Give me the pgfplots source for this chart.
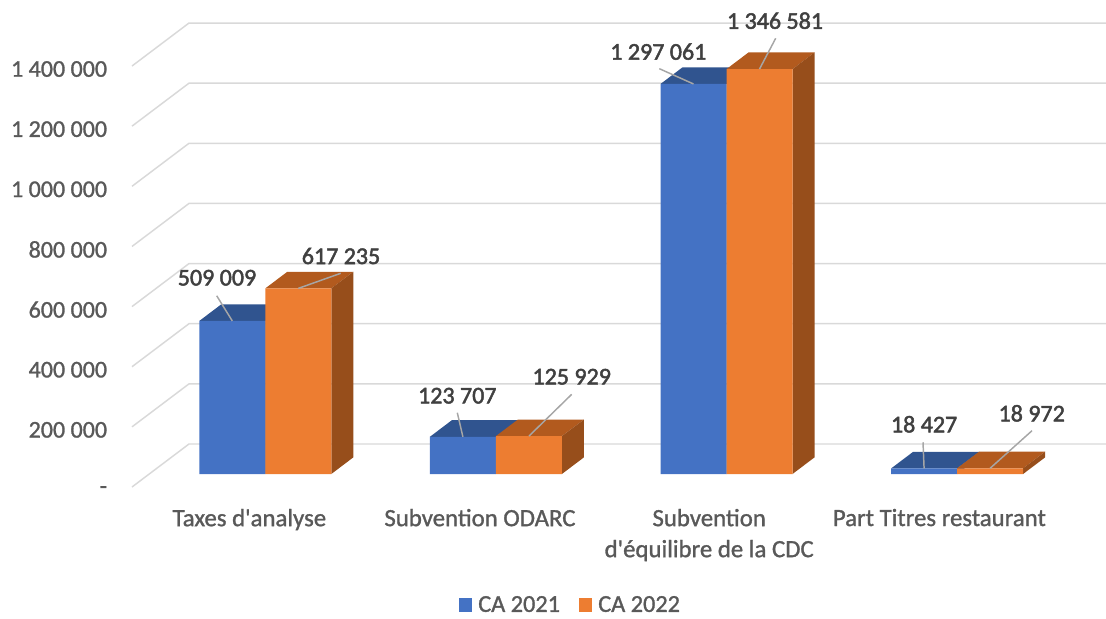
\documentclass[border=0pt]{standalone}
\usepackage{fontspec}
\setmainfont{Carlito}
\newfontfamily\semi[FakeBold=1.2]{Carlito}
\newfontfamily\semib[FakeBold=2]{Carlito}
\usepackage{pgfplots}
\pgfplotsset{compat=1.18}
\definecolor{cblue}{HTML}{4472C4}
\definecolor{corange}{HTML}{ED7D31}
\definecolor{cbluetop}{HTML}{30548F}
\definecolor{corangetop}{HTML}{B25A1E}
\definecolor{cblueside}{HTML}{284678}
\definecolor{corangeside}{HTML}{974E1B}
\definecolor{cgrid}{HTML}{D9D9D9}
\definecolor{cleader}{HTML}{A6A6A6}
\definecolor{ctick}{HTML}{595959}
\definecolor{clabel}{HTML}{404040}
% one gridline: front of the floor, back wall, right end
\newcommand{\gridat}[1]{\addplot[cgrid,line width=1.1pt,forget plot] coordinates {(-0.57806,#1-43233) (-0.33088,#1+99767) (3.64571,#1+99767)};}
% top and side of a bar: left edge, value, colours
\newcommand{\solid}[4]{%
 \addplot[fill=#3,draw=none,forget plot] coordinates {(#1,#2) (#1+0.2862,#2) (#1+0.3816,#2+55300) (#1+0.0954,#2+55300)};
 \addplot[fill=#4,draw=none,forget plot] coordinates {(#1+0.2862,0) (#1+0.3816,55300) (#1+0.3816,#2+55300) (#1+0.2862,#2)};
}
% leader and label: x, value, leader dx dy, label dx dy, text
\newcommand{\lab}[7]{%
 \draw[cleader,line width=1.1pt] (axis cs:#1,#2) -- ++(#3*0.75pt,#4*0.75pt);
 \node[font=\semib\fontsize{18}{20}\selectfont,text=clabel,inner sep=0pt,xshift=#5*0.75pt,yshift=#6*0.75pt] at (axis cs:#1,#2) {#7};
}
\begin{document}
\begin{tikzpicture}
\useasboundingbox (-82.5pt,-88.5pt) rectangle (747pt,375pt);
\begin{axis}[
 at={(0,0)},anchor=south west,
 scale only axis,width=747pt,height=371.25pt,
 xmin=-0.67346,xmax=3.64571,ymin=-86464,ymax=1559695,
 clip=false,
 axis line style={draw=none},
 tick style={draw=none},
 major tick length=0pt,
 scaled y ticks=false,
 xtick={-0.004,0.996,1.99,2.988},
 xticklabels={Taxes d'analyse,Subvention ODARC,{Subvention\\d'équilibre de la CDC},Part Titres restaurant},
 xticklabel style={font=\semi\fontsize{18.6}{23.25}\selectfont,text=ctick,align=center,anchor=north,inner sep=0pt,xshift=-11.25pt,yshift=-6.5pt},
 ytick={0,200000,400000,600000,800000,1000000,1200000,1400000},
 yticklabels={-,200 000,400 000,600 000,800 000,1 000 000,1 200 000,1 400 000},
 yticklabel style={font=\semi\fontsize{18}{20}\selectfont,text=ctick,anchor=east,inner sep=0pt,xshift=-2pt,yshift=-12pt},
 legend style={at={(0.4618,-0.2121)},anchor=center,draw=none,fill=none,font=\semi\fontsize{18.2}{20}\selectfont,text=ctick,legend columns=2,/tikz/every even column/.append style={column sep=13pt},/tikz/every odd column/.append style={column sep=3.75pt},inner sep=0pt,nodes={inner sep=1pt}},
 legend image code/.code={\fill[#1] (0pt,-5pt) rectangle (10pt,5pt);},
]
\gridat{0}
\gridat{200000}
\gridat{400000}
\gridat{600000}
\gridat{800000}
\gridat{1000000}
\gridat{1200000}
\gridat{1400000}
\solid{-0.2862}{509009}{cbluetop}{cblueside}
\solid{0.7138}{123707}{cbluetop}{cblueside}
\solid{1.7138}{1297061}{cbluetop}{cblueside}
\solid{2.7138}{18427}{cbluetop}{cblueside}
\addplot[ybar,bar width=49.5pt,bar shift=-24.75pt,fill=cblue,draw=none] coordinates {(0,509009) (1,123707) (2,1297061) (3,18427)};
\addlegendentry{CA 2021}
\solid{0}{617235}{corangetop}{corangeside}
\solid{1}{125929}{corangetop}{corangeside}
\solid{2}{1346581}{corangetop}{corangeside}
\solid{3}{18972}{corangetop}{corangeside}
\addplot[ybar,bar width=49.5pt,bar shift=24.75pt,fill=corange,draw=none] coordinates {(0,617235) (1,125929) (2,1346581) (3,18972)};
\addlegendentry{CA 2022}
\lab{-0.1431}{509009}{-15.6}{25.2}{-15.3}{43.2}{509 009}
\lab{0.1431}{617235}{42.4}{15.1}{42.7}{32.4}{617 235}
\lab{0.8569}{123707}{-5.6}{24.1}{-5.6}{41.1}{123 707}
\lab{1.1431}{125929}{42.8}{41.8}{42.8}{59.4}{125 929}
\lab{1.8569}{1297061}{-34.2}{15.3}{-35.2}{32.3}{1 297 061}
\lab{2.1431}{1346581}{16.2}{30.8}{15.5}{48.4}{1 346 581}
\lab{2.8569}{18427}{-1.1}{26.2}{0}{44.2}{18 427}
\lab{3.1431}{18972}{41.9}{37.6}{41.6}{55}{18 972}
\end{axis}
\end{tikzpicture}
\end{document}
